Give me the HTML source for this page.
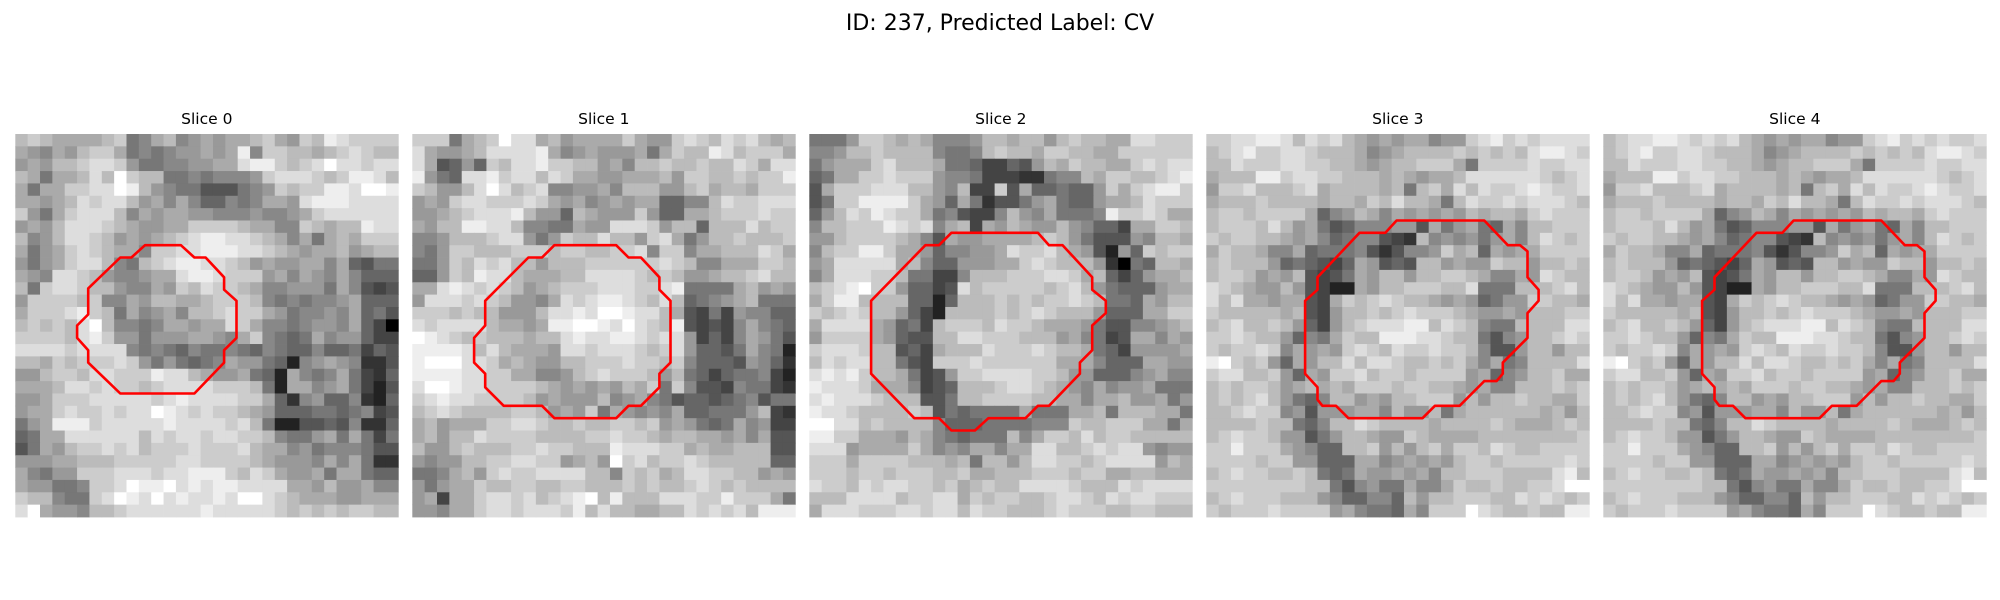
<!DOCTYPE html>
<html><head><meta charset="utf-8"><style>
html,body{margin:0;padding:0;background:#fff;width:2000px;height:600px;overflow:hidden}
svg{display:block}
</style></head><body>
<svg id="fig" width="2000" height="600" viewBox="0 0 2000 600" xmlns="http://www.w3.org/2000/svg">
<text x="1000" y="30" text-anchor="middle" font-family="DejaVu Sans, Liberation Sans, sans-serif" font-size="22" fill="#000">ID: 237, Predicted Label: CV</text>
</svg>
<script>
// grayscale cell intensities per slice (hex digit: 0 = black, f = white), 31x31
const slice0 = ["bcbaaaabc78ab89a9aabca9cbedcccc","a98a9bcca787899a9ae8ccbbabcdcbb","9a9bbcddc9778899aadeecbcdfddcdd","ba7aabdbfcbb77878889cdddcbceedb","a7aaccddfeb9877555789cbcceedffe","aa9abdcddb9a8a866878aa9deeedddd","c97acdddb8a9aa998889889acdddddd","9a9bdddcba99aaccccbaa88cbabbedd","b89bddcb9a9abcdeeddcba8a7abaccc","a79acdcbaa8ccddeeeddcba9aab9abb","979acddb87bcdeeddcb9a99aa8a6577","a98ddcb9889aadeedccc9a8a98a8666","b7cddcbb988a9cbdccba889997a8545","9ccccbc88a9bbaabcccb8787889a666","acccdecb7a89a8bbcdcca978898a675","bcbcbdfb8878aa9aadca8878998a640","ccccbdec997999aa98ac8767a899644","ddddcdddd87876877876876686674654","bbacbcccdc9797678a9976289a98335","99bccbddccceddba99a762a878a7436","aaabddcdccbcddddcccb72aa89a7425","99acccdddddcdeddddcca6389668326","9aacdccdcddfedcdccba96667767845","79aeeecdddddeddddcdb72255658336","67aaddddddbdcddcddccb8779a7a747","57a9bccdcdbcccdcccdbaa897888755","999aabbbcccccddccccba9998a8a733","a8799cccdddcddeeecbdca99a7aa766","a99778ccdfeefdedeeddddaa9b99a88","cbb877cdfedfdeddedffdcbaaa99aaa","dfa998bbcddddddedddddcbcbcbccbb"];
const slice1 = ["ccc7abcfddab9aaaaca99cdcbdcdbab","da99abddddea89a999a7acbbedbccca","da5696cbddeccbb9a8bbcbbcbbdcadd","e976ddecddbdcaa99aaab9ccbbcbcce","cb99bdfdbcd8899a8bbb99bcabbaccc","9a9cddcccdca9a89a9aa6688bdccddd","99abcdddeb996ba999c966aabcccdcc","a9bbeeddb8877a99dddc9bb6bbbdbcc","889bbbcdd979cbbdbb9cda79bbcbbbc","879ccbbbcccbccbbccd8cc8aabbbdca","779cbdcdbb9bbbccccccdcb88aaaccb","669cbeddbaaabbddddcbcb99abbcdbb","aadedcdcb9abcccdddccde7777ab9a9","9dddcdcb998adcdeedcbdb6789ab777","cccbcbb999bddedffeddba547498866","dcddddbaa9aeeffedfdcbe54548a876","fedcbcbbbabbdeddeedcdd94648a975","eeeedbdbaaa9ddcdddcbcd96657a872","efffddcaba99bbcccdccbc866659863","eeeeddccaa889bcdcccb9b764677842","dffeddccccba9a9a9bac7c855487743","cdeddccccb9a999b89a87566567857","bcdcbbbbccb9a9c7a9898a667779b43","ab9aaaccddcbbcbbccbc9a9767a8944","ab9bbdccccbbbbccdccbabbaa9a8a55","b99bcbbbccdccbbbedddccabaabbb55","9899bbccddcc9ab9fcdbccdcbbbbb66","778ab9cdccddddbb8cbcabddccbb9a9","979aacbbccbbccbbbcbcbbcdcbcbbbb","9a4aacddcdbcdefbebbbdddcceccca7","998aacddcdddcebdbbaabbdcdcdbeee"];
const slice2 = ["7779ccbaba8889bbabb9bcbbaaddccc","889bbcbbbb8778bcbbaccbbaacccccc","79aaacdbbba77644659bacbbaacdcdd","67aaccdccc988744433788baccbbcde","5acccdddbb98b44c5a667669cacdeec","57cceeeeca96a735579a7669aabdccc","69bdcedcca785448b98a7778eccdcaa","8bbcccedcd8ab4a9ba99b98664aaccb","99bccccba85a99aaaabcb9755598bba","8bcceecaa968899adccdba95296cbcc","9adddddab866999aacdcbbb93076bba","8adddccb77448bbbcccddcab6469aab","bcdefcc96645dbcccccbcdb976669aa","aceebbbb6626bbbcbcbccdcb776a9bb","cbcdcbb9642bbbbcbcdcbbb9666aacc","adddda9674bcccbdccbaaa9755889ab","9cccca9655bbddcccbbb9a8745aa8a9","cdddcbb564abbbdcccdcbba7649999a","bdcddbb754cccdccccccaaa8666aa99","dedecbba7459ccddddccb9966689a88","edddcaaa8456bbbcddcba98a899a777","dedddcbbb557bbccccbbaa8aab99a79","eddcbbbbcb5767777a777aab7bbbaa7","ffddbcbbbb86667777888cbbcccaa7a","eeccaaa9ba876777b8accbdbccbbbbb","ddd9aaaaca898aa8aaddbbcdcdd9899","cccaccccbbbab7bb9bddccbcdddd9ba","cccbccbcccbbcaabbbcccbccaabbaaa","dccbdcddccbcabcbbddddcbbbdcddd","bbbddddbccddacbccbbcddcbdcddccc","adddcccddcddbdccbbbcdcccbbccbbb"];
const slice3 = ["ccddeedbdcdba9a9aa899cdecdcdddd","bcdeccddcbbba89abbbbcbcbcbdeedc","bbdcccddccbba9abbccca7ccccdccdd","abbbeecddccbbbaba9aabddddddcbcd","9ccdbbbcdabbbbab7bcadbdccdedccd","abbbcbbbbabbacbdbba7bdccdcdddcb","bccbcccca689ba8a9a9a9babbacdccc","bcccbdb9a756888995a79a76a8bbccc","cbccbba9a86788543b898979a8bdcbc","acbba88a67778535889cab6a9aacccc","bcbbb9676546a9565bb9a99cbb9bbcb","bccb9a9b5457a9bb9bbccba88a9dcbb","dcba99b95422a9bbcccbbd777bbbcdb","dbdaa9aa54acbcdcbba9a96799ccbba","cbbbbbab549bbcbcdcccba99a9bbbcc","bcdbbcb9649bcdddeebdcb877bbbbdd","ccdcbb9687acbbeeeddcbb7589bbcdc","cbccdc8a9a9cdcbdccdccb8559bb9bb","efcbc96a9bbdbddcbbcbca8a78bbbbd","cddbbc96a9ccdbccbcccc9a689bbcaa","bcbccb9ababacccbccbba9a88bbbcbc","bcbcdb9768bb9a9bbccc9b9bbcbbaac","bbcdcc895999aa8b99b7abbbbbbab9b","bbbbcbb768bbdcbbbbabbbbcbaaabcb","bcdccb99579bba99cbaaaabbbbbbbbc","cceccca9866bbc9b9bcaccbdcbbcccc","ccccbcc99666aa89a9a9bccbcccccdc","bcdccbbcb767a99a9a8bbcccbbbbdeb","ccccccccbb758977a88acbbcbbccdff","bcdcccbbb9866886b9bbcccbbdcdcbc","cbcccdcccc9a8776a8cccfdcbbcbbee"];
const slice4 = ["bcddeedcdcdba9a9aa899cdecdcdccd","bcdeccddcbbba89abbbbcbcbcbdeedc","bbdcccddccbba9abbccca7ccccdccdd","abbbeecddccbbbaba9aabddddddcbcd","9ccdbbbcdabbbbab7bcadbdccdedccd","abbbcbbbbabbacbdbba7bdccdcdddcb","bccbcccca689ba8a9a9a9babbacdccc","bcccbdb9a756888995a79a76a8bbccc","cbccbba9a86788543b898979a8bdcbc","acbba88a67778535889cab6a9aacccc","bcbbb9676546a9565bb9a99cbb9bbcb","bccb9a9b5457a9bb9bbccba88a9dcbb","dcba99b95422a9bbcccbbd777bbbcdb","dbdaa9aa54acbcdcbba9a96799ccbba","cbbbbbab549bbcbcdcccba99a9bbbcc","bcdbbcb9649bcdddeebdcb877bbbbdd","ccdcbb9687acbbeeeddcbb7589bbcdc","cbccdc8a9a9cdcbdccdccb8559bb9bb","efcbc96a9bbdbddcbbcbca8a78bbbbd","cddbbc96a9ccdbccbcccc9a689bbcaa","bcbccb9ababacccbccbba9a88bbbcbc","bcbcdb9768bb9a9bbccc9b9bbcbbaac","bbcdcc895999aa8b99b7abbbbbbab9b","bbbbcbb768bbdcbbbbabbbbcbaaabcb","bcdccb99579bba99cbaaaabbbbbbbbc","cceccca9866bbc9b9bcaccbdcbbcccc","ccccbcc99666aa89a9a9bccbcccccdc","bcdccbbcb767a99a9a8bbcccbbbbdeb","ccccccccbb758977a88acbbcbbccdff","bcdcccbbb9866886b9bbcccbbdcdcbc","cbcccdcccc9a8776a8cccfdcbbcbbee"];
const slices = [slice0, slice1, slice2, slice3, slice4];
const sliceTitles = ["Slice 0","Slice 1","Slice 2","Slice 3","Slice 4"];
// contour vertices in cell units [col,row]
const contour0 = [[10.5,9],[13.4,9],[14.5,10],[15.4,10],[16.9,11.6],[16.9,12.6],[17.9,13.5],[17.9,16.5],[16.9,17.5],[16.9,18.5],[14.5,21],[8.5,21],[5.9,18.5],[5.9,17.5],[5,16.5],[5,15.5],[5.9,14.6],[5.9,12.5],[8.5,10],[9.4,10]];
const contour1 = [[11.5,9],[16.5,9],[17.5,10],[18.5,10],[20,11.6],[20,12.6],[20.9,13.5],[20.9,18.5],[20,19.4],[20,20.5],[18.5,22],[17.5,22],[16.5,23],[11.5,23],[10.5,22],[7.4,22],[5.9,20.5],[5.9,19.4],[5,18.5],[5,16.5],[5.9,15.5],[5.9,13.5],[9.4,10],[10.5,10]];
const contour2 = [[11.5,8],[18.5,8],[19.4,9],[20.5,9],[22.9,11.6],[22.9,12.6],[24,13.5],[24,14.5],[22.9,15.5],[22.9,17.5],[21.9,18.5],[21.9,19.4],[19.4,22],[18.5,22],[17.5,23],[14.5,23],[13.4,24],[11.5,24],[10.5,23],[8.5,23],[5,19.4],[5,13.5],[9.4,9],[10.5,9]];
const contour3 = [[15.4,7],[22.5,7],[24.4,9],[25.4,9],[26,9.5],[26,11.6],[26.9,12.6],[26.9,13.5],[26,14.5],[26,16.5],[24,18.5],[24,19.4],[23.5,20],[22.5,20],[20.5,22],[18.5,22],[17.5,23],[11.5,23],[10.5,22],[9.4,22],[9,21.5],[9,20.5],[8,19.4],[8,13.5],[9,12.6],[9,11.6],[12.4,8],[14.5,8]];
const contour4 = contour3.slice();
const contours = [contour0, contour1, contour2, contour3, contour4];

const NS = "http://www.w3.org/2000/svg";
const svg = document.getElementById('fig');
const N = 31, PANEL = 383, TOP = 134, LEFT0 = 15.3, STEP = 397;
const cell = PANEL / N;
function xCell(p, c) { return LEFT0 + p * STEP + c * cell; }
function yCell(r) { return TOP + r * cell; }
function gray(ch) { const v = parseInt(ch, 16); const g = Math.round((isNaN(v) ? 11 : v) * 17); return `rgb(${g},${g},${g})`; }

slices.forEach((rows, p) => {
  const g = document.createElementNS(NS, 'g');
  
  
  svg.appendChild(g);
  const t = document.createElementNS(NS, 'text');
  
  
  t.setAttribute('x', xCell(p, N / 2));
  t.setAttribute('y', 124);
  t.setAttribute('text-anchor', 'middle');
  t.setAttribute('font-family', 'DejaVu Sans, Liberation Sans, sans-serif');
  t.setAttribute('font-size', '15.5');
  t.textContent = sliceTitles[p];
  g.appendChild(t);
  for (let r = 0; r < N; r++) {
    const row = rows[r] || '';
    for (let c = 0; c < N; c++) {
      const ch = row[c] !== undefined ? row[c] : row[row.length - 1];
      const rect = document.createElementNS(NS, 'rect');
      
      
      rect.setAttribute('x', xCell(p, c).toFixed(2));
      rect.setAttribute('y', yCell(r).toFixed(2));
      rect.setAttribute('width', (cell + 0.4).toFixed(2));
      rect.setAttribute('height', (cell + 0.4).toFixed(2));
      rect.setAttribute('fill', gray(ch));
      g.appendChild(rect);
    }
  }
  const poly = document.createElementNS(NS, 'polygon');
  
  
  poly.setAttribute('points', contours[p].map(pt => xCell(p, pt[0]).toFixed(1) + ',' + yCell(pt[1]).toFixed(1)).join(' '));
  poly.setAttribute('fill', 'none');
  poly.setAttribute('stroke', '#ff0000');
  poly.setAttribute('stroke-width', '2.6');
  poly.setAttribute('stroke-linejoin', 'round');
  g.appendChild(poly);
});
</script>
</body></html>
